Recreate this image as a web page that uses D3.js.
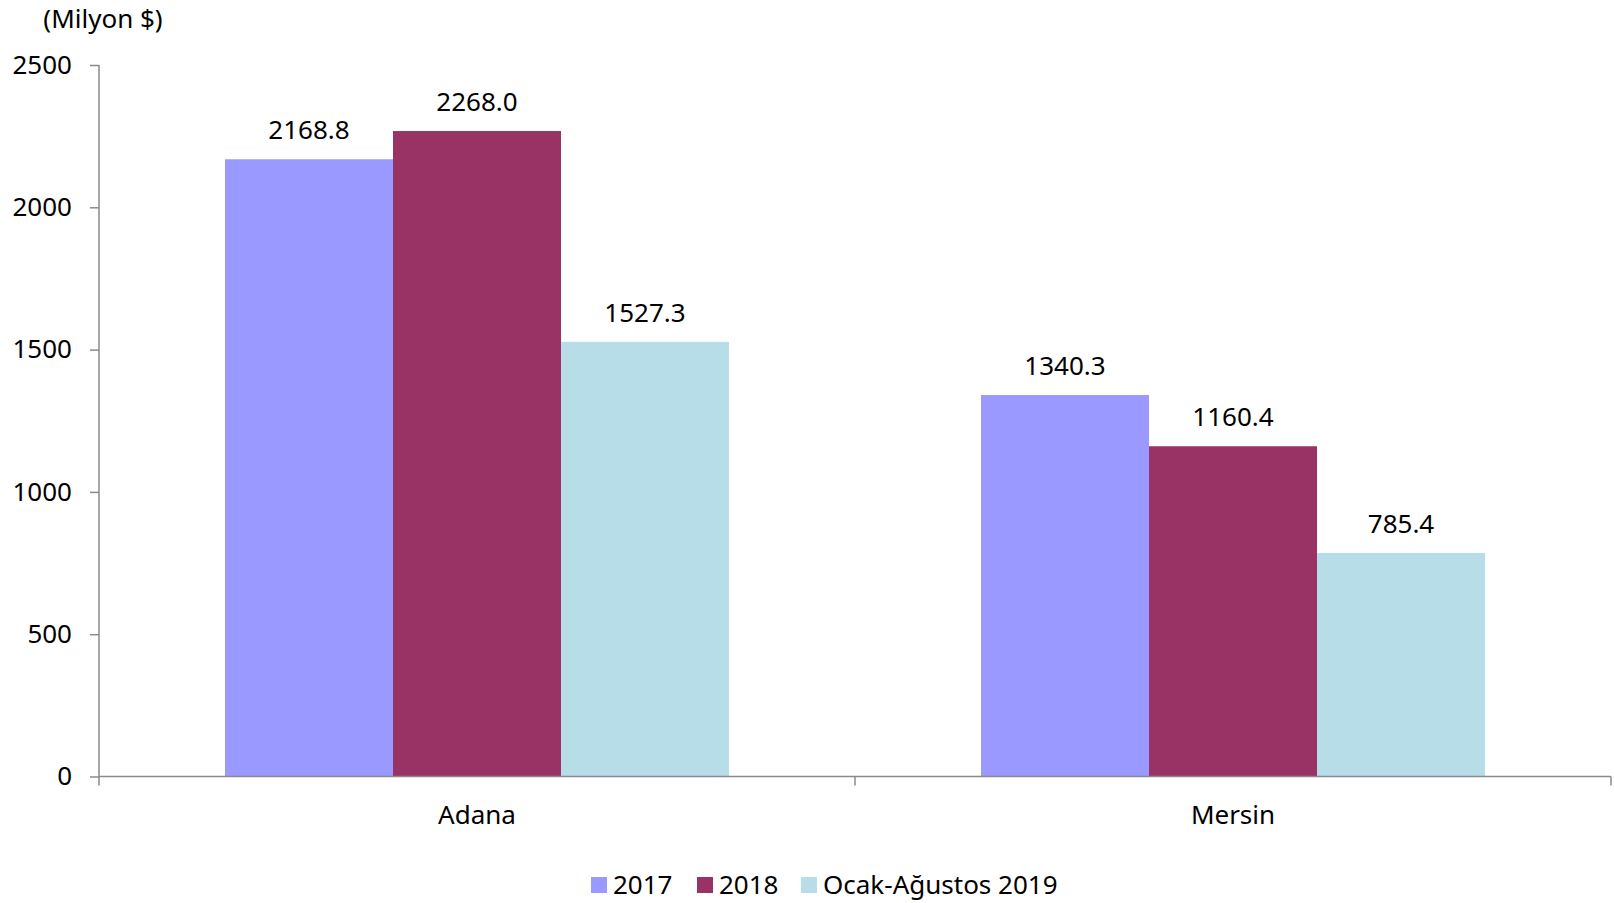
<!DOCTYPE html>
<html>
<head>
<meta charset="utf-8">
<script src="https://cdn.jsdelivr.net/npm/d3@7"></script>
<style>
  html, body { margin: 0; padding: 0; background: #fff; }
  svg { display: block; font-family: "Noto Sans", "Open Sans", sans-serif; }
</style>
</head>
<body>
<svg id="chart" width="1614" height="903"></svg>
<script>
// Export values by province (million $)
const categories = ["Adana", "Mersin"];
const seriesNames = ["2017", "2018", "Ocak-Ağustos 2019"];
const values2017 = [2168.8, 1340.3];
const values2018 = [2268.0, 1160.4];
const values2019 = [1527.3, 785.4];
const yTicks = [0, 500, 1000, 1500, 2000, 2500];
const colors = ["#9999FF", "#993366", "#B7DEE8"];

const seriesValues = [values2017, values2018, values2019];
const rows = categories.map((c, i) => ({
  category: c,
  bars: seriesNames.map((s, j) => ({ series: s, value: seriesValues[j][i], color: colors[j] }))
}));

const svg = d3.select("#chart");
const plot = { left: 99, right: 1611, top: 65, bottom: 776.5 };
const axisColor = "#8a8a8a";
const fontSize = 26;

const x = d3.scaleBand().domain(categories).range([plot.left, plot.right]).padding(0);
const xInner = d3.scaleBand().domain(seriesNames)
  .range([x.bandwidth() / 6, x.bandwidth() * 5 / 6]).padding(0);
const y = d3.scaleLinear().domain([0, 2500]).range([plot.bottom, plot.top]);

// Bars
const groups = svg.append("g").selectAll("g").data(rows).join("g")
  .attr("transform", d => `translate(${x(d.category)},0)`);

groups.selectAll("rect").data(d => d.bars).join("rect")
  .attr("x", d => xInner(d.series))
  .attr("width", xInner.bandwidth())
  .attr("y", d => y(d.value))
  .attr("height", d => y(0) - y(d.value))
  .attr("fill", d => d.color);

// Value labels above bars
groups.selectAll("text").data(d => d.bars).join("text")
  .attr("x", d => xInner(d.series) + xInner.bandwidth() / 2)
  .attr("y", d => y(d.value) - 20)
  .attr("text-anchor", "middle")
  .attr("font-size", fontSize)
  .attr("fill", "#000")
  .text(d => d.value.toFixed(1));

// Y axis
const yAxis = svg.append("g")
  .attr("transform", `translate(${plot.left},0)`)
  .call(d3.axisLeft(y).tickValues(yTicks).tickSize(9).tickPadding(18).tickFormat(d3.format("d")));
yAxis.select(".domain").attr("stroke", axisColor).attr("stroke-width", 1.5)
  .attr("d", `M0,${plot.top}V${plot.bottom}`);
yAxis.selectAll(".tick line").attr("stroke", axisColor).attr("stroke-width", 1.5);
yAxis.selectAll(".tick text").attr("font-size", fontSize).attr("fill", "#000")
  .attr("font-family", "Noto Sans, Open Sans, sans-serif");

// X axis: line with ticks at category boundaries, labels at centres
const xAxis = svg.append("g").attr("transform", `translate(0,${plot.bottom})`);
xAxis.append("line")
  .attr("x1", plot.left).attr("x2", plot.right)
  .attr("stroke", axisColor).attr("stroke-width", 1.5);
const boundaries = categories.map(c => x(c)).concat([x.range()[1]]);
xAxis.selectAll("line.tick").data(boundaries).join("line")
  .attr("class", "tick")
  .attr("x1", d => d).attr("x2", d => d)
  .attr("y1", 0).attr("y2", 9)
  .attr("stroke", axisColor).attr("stroke-width", 1.5);
xAxis.selectAll("text").data(categories).join("text")
  .attr("x", d => x(d) + x.bandwidth() / 2)
  .attr("y", 47)
  .attr("text-anchor", "middle")
  .attr("font-size", fontSize)
  .text(d => d);

// Unit label
svg.append("text")
  .attr("x", 103).attr("y", 28)
  .attr("text-anchor", "middle")
  .attr("font-size", fontSize)
  .text("(Milyon $)");

// Legend
const legendItems = [
  { name: seriesNames[0], color: colors[0], x: 591 },
  { name: seriesNames[1], color: colors[1], x: 697 },
  { name: seriesNames[2], color: colors[2], x: 801 }
];
const legend = svg.append("g").selectAll("g").data(legendItems).join("g")
  .attr("transform", d => `translate(${d.x},877)`);
legend.append("rect").attr("width", 16).attr("height", 16).attr("fill", d => d.color);
legend.append("text").attr("x", 22).attr("y", 17)
  .attr("font-size", fontSize).text(d => d.name);
</script>
</body>
</html>
